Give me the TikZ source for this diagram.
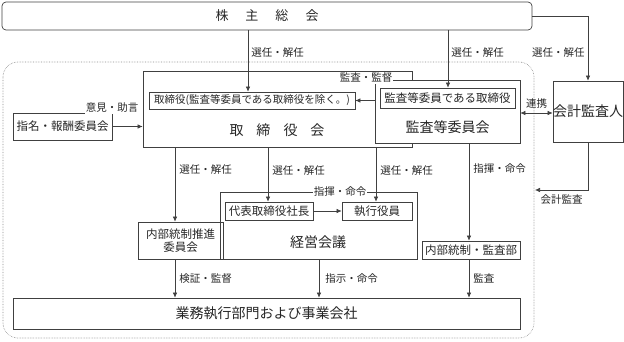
\documentclass[tikz,border=0pt]{standalone}
\usepackage{fontspec}
\setmainfont{Noto Sans CJK JP}
\usepackage{tikz}
\usetikzlibrary{arrows.meta,positioning,calc}
\newcommand{\gap}[1]{\hspace{#1}}

\begin{document}
\begin{tikzpicture}[x=1pt, y=-1pt,
  every node/.style={font=\fontsize{11.5}{13.5}\selectfont, text=black!85},
  box/.style={draw=black!75, line width=0.7pt, inner sep=0pt, align=center},
  big/.style={font=\fontsize{14}{16}\selectfont},
  lbl/.style={inner sep=1pt, font=\fontsize{10.5}{12}\selectfont},
  ar/.style={-{Latex[length=5pt,width=4.5pt]}, draw=black!75, line width=0.6pt}]
  \useasboundingbox (0,0) rectangle (624,341);
  \draw[black!45, densely dotted, line width=0.6pt, rounded corners=15pt]
    (3,62) rectangle (534,338);
  \node[box, rounded corners=4pt, minimum width=530pt, minimum height=28pt]
    (sh) at (267,16) {\fontsize{13}{15}\selectfont 株\gap{17pt}主\gap{17pt}総\gap{17pt}会};
  \node[box, minimum width=269pt, minimum height=76pt] (bd) at (277.5,109) {};
  \node[box, minimum width=206pt, minimum height=17pt, font=\fontsize{10.5}{12}\selectfont]
    (bdin) at (252,100.5) {取締役(監査等委員である取締役を除く。)};
  \node[big] (bdt) at (277,130) {取\gap{13pt}締\gap{13pt}役\gap{13pt}会};
  \node[box, fill=white, minimum width=145pt, minimum height=63pt] (ac) at (447.5,111.5) {};
  \node[box, minimum width=135pt, minimum height=20pt] (acin) at (447.5,98)
    {監査等委員である取締役};
  \node[big] (act) at (447.5,127) {監査等委員会};
  \node[box, big, minimum width=70pt, minimum height=61pt] (au) at (588,111.5) {会計監査人};
  \node[box, minimum width=99pt, minimum height=27pt] (nc) at (62.5,126.5) {指名・報酬委員会};
  \node[box, minimum width=85pt, minimum height=37pt] (ic) at (180.5,240.5)
    {内部統制推進\\委員会};
  \node[box, minimum width=197pt, minimum height=67pt] (mm) at (318.5,225.5) {};
  \node[big] (mmt) at (318,242) {経営会議};
  \node[box, minimum width=88pt, minimum height=18pt] (ceo) at (269,211) {代表取締役社長};
  \node[box, minimum width=70pt, minimum height=18pt] (eo) at (377,211) {執行役員};
  \node[box, minimum width=98pt, minimum height=18pt] (ia) at (471,250) {内部統制・監査部};
  \node[box, big, minimum width=507pt, minimum height=31pt] (bu) at (266.5,313.5)
    {業務執行部門および事業会社};
  \coordinate (aur) at (535,190);

  \draw[ar] (sh.south -| 248,0) -- node[lbl, pos=0.36, right=2pt]{選任・解任} (bdin.north -| 248,0);
  \draw[ar] (sh.south -| 448,0) -- node[lbl, pos=0.38, right=2pt]{選任・解任} (acin.north -| 448,0);
  \draw[ar] (sh.east) -| node[lbl, pos=0.78, left=2pt]{選任・解任} (au.north);
  \draw[{Latex[length=5pt,width=4.5pt]}-{Latex[length=5pt,width=4.5pt]}, draw=black!75,
    line width=0.6pt] (ac.east |- 0,113) -- node[lbl, above=3pt]{連携} (au.west |- 0,113);
  \draw[ar] (au.south) |- node[lbl, pos=0.75, below=3pt]{会計監査} (aur);
  \draw[ar] (nc.east) -- (bd.west |- nc.east);
  \node[lbl, fill=white] (ncl) at (112,108) {意見・助言};
  \draw[ar] (ac.west |- bdin.east) -- (bdin.east);
  \node[lbl, fill=white] (acl) at (366,78) {監査・監督};
  \draw[ar] (bd.south -| 175,0) -- node[lbl, pos=0.3, right=3pt]{選任・解任} (ic.north -| 175,0);
  \draw[ar] (bd.south -| 268,0) -- node[lbl, pos=0.42, right=3pt]{選任・解任} (ceo.north -| 268,0);
  \draw[ar] (bd.south -| 376,0) -- node[lbl, pos=0.42, right=3pt]{選任・解任} (eo.north -| 376,0);
  \draw[ar] (ceo.east) -- (eo.west);
  \node[lbl, fill=white] (mml) at (340,192) {指揮・命令};
  \draw[ar] (ac.south -| 469,0) -- node[lbl, pos=0.26, right=3pt]{指揮・命令} (ia.north -| 469,0);
  \draw[ar] (ic.south -| 175,0) -- node[lbl, right=3pt]{検証・監督} (bu.north -| 175,0);
  \draw[ar] (mm.south -| 319,0) -- node[lbl, right=5pt]{指示・命令} (bu.north -| 319,0);
  \draw[ar] (ia.south -| 469,0) -- node[lbl, right=3pt]{監査} (bu.north -| 469,0);
\end{tikzpicture}
\end{document}
